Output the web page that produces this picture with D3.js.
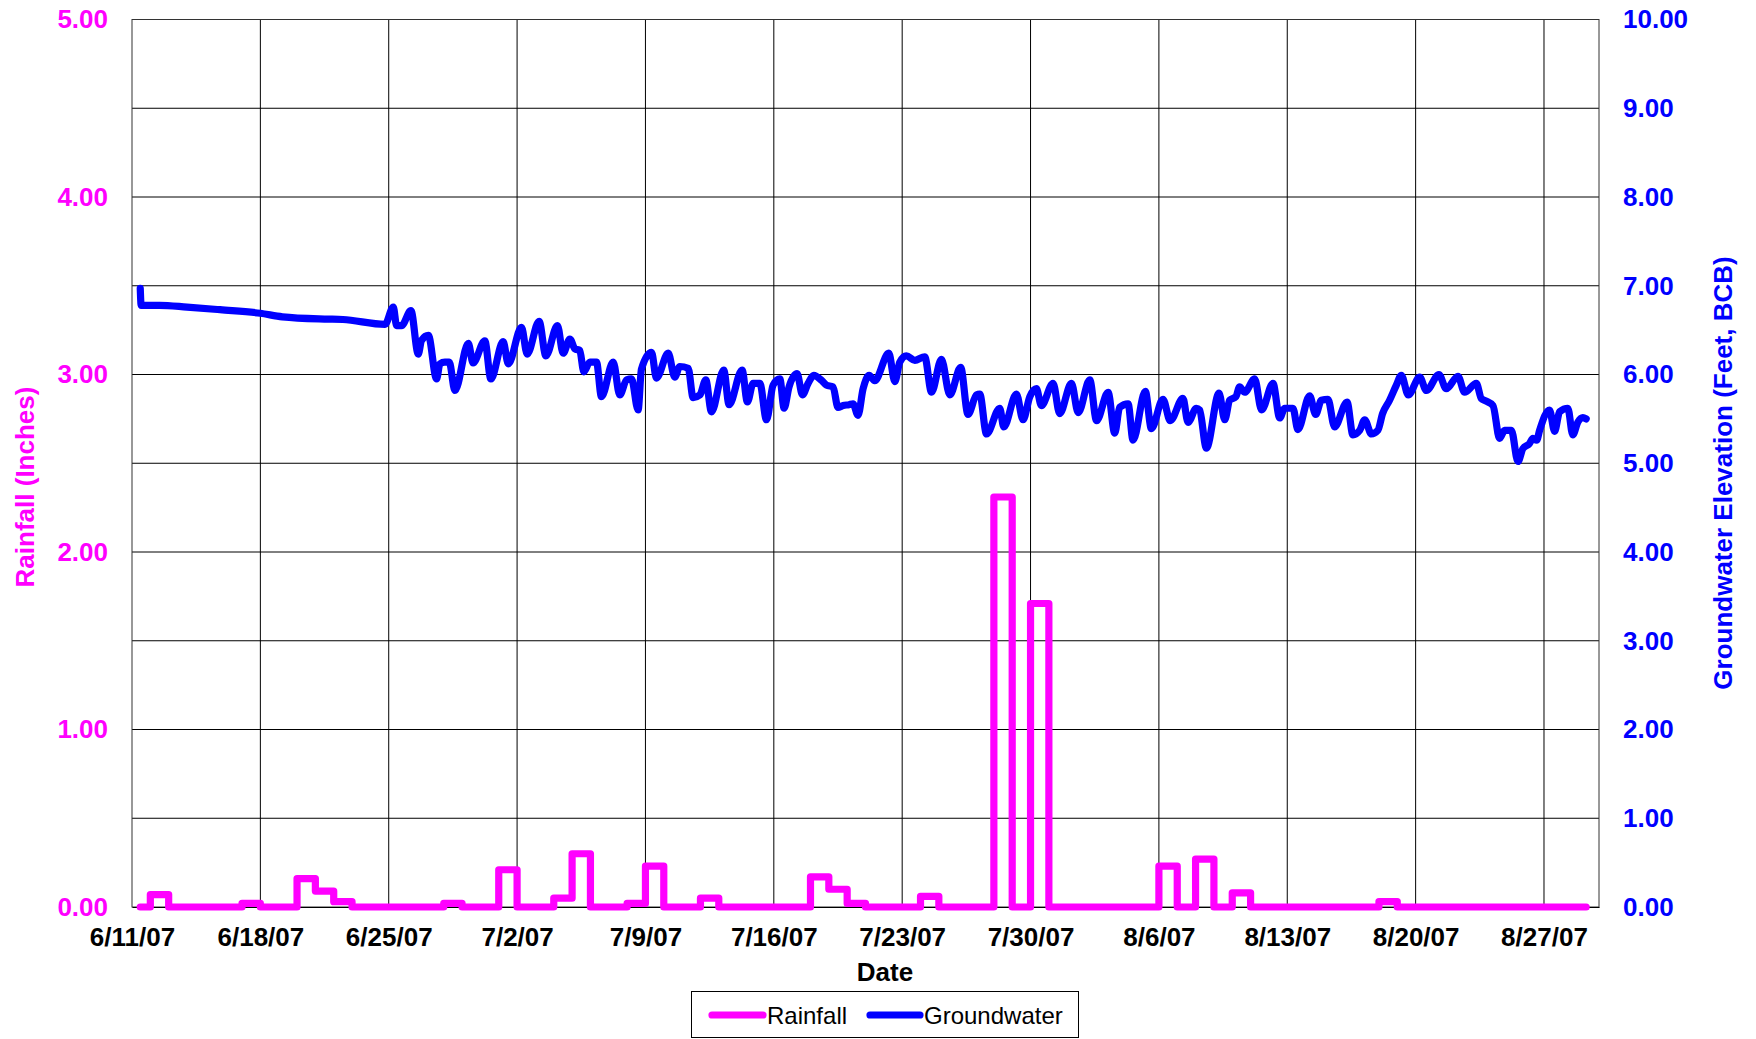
<!DOCTYPE html>
<html>
<head>
<meta charset="utf-8">
<script src="https://cdn.jsdelivr.net/npm/d3@7"></script>
<style>
  html, body { margin: 0; padding: 0; background: #fff; }
  svg { display: block; }
  text { font-family: "Liberation Sans", Arial, sans-serif; }
</style>
</head>
<body>
<svg id="chart" width="1756" height="1039"></svg>
<script>
// ---------- DATA ----------
const xTickLabels = ["6/11/07","6/18/07","6/25/07","7/2/07","7/9/07","7/16/07","7/23/07","7/30/07","8/6/07","8/13/07","8/20/07","8/27/07"];
const xDomainLabels = ["6/11/07", "8/30/07"];
const rainTicks = [0, 1, 2, 3, 4, 5];
const gwTicks = [0, 1, 2, 3, 4, 5, 6, 7, 8, 9, 10];

// Daily rainfall (inches), one value per day starting 6/11/07
const rainStart = "6/11/07";
const rainfall = [
  0, 0.07, 0, 0, 0, 0, 0.02, 0, 0, 0.16,
  0.09, 0.03, 0, 0, 0, 0, 0, 0.02, 0, 0,
  0.21, 0, 0, 0.05, 0.30, 0, 0, 0.02, 0.23, 0,
  0, 0.05, 0, 0, 0, 0, 0, 0.17, 0.10, 0.02,
  0, 0, 0, 0.06, 0, 0, 0, 2.31, 0, 1.71,
  0, 0, 0, 0, 0, 0, 0.23, 0, 0.27, 0,
  0.08, 0, 0, 0, 0, 0, 0, 0, 0.03, 0,
  0, 0, 0, 0, 0, 0, 0, 0, 0, 0
];
const recordFirstDay = 0.45;   // first reading (days after 6/11/07)
const recordLastDay = 79.3;    // last reading (days after 6/11/07)

// Groundwater elevation (feet, BCB): time in days after 6/11/07 and value
const gwDay = [
  0.45, 0.5, 1.5, 3.0, 4.8, 7.0, 8.2, 10.5, 11.5, 13.8,
  14.25, 14.43, 14.7, 15.21, 15.61, 15.79, 16.16, 16.61, 16.79, 17.06, 17.3, 17.61,
  18.34, 18.6, 19.24, 19.57, 20.24, 20.52, 21.24, 21.55, 22.2, 22.57, 23.2, 23.51,
  23.88, 24.15, 24.42, 24.64, 24.97, 25.33, 25.6, 26.24, 26.6, 26.97, 27.24, 27.6,
  27.78, 28.33, 28.6, 29.24, 29.6, 29.87, 30.33, 30.6, 30.97, 31.29, 31.6, 32.27,
  32.56, 33.27, 33.56, 33.87, 34.24, 34.6, 34.96, 35.33, 35.56, 35.83, 36.27, 36.56,
  36.87, 37.18, 37.6, 37.87, 38.23, 38.5, 38.78, 39.1, 39.32, 39.59, 39.87, 40.2,
  40.5, 41.27, 41.6, 41.87, 42.23, 42.69, 43.23, 43.6, 44.14, 44.6, 45.19, 45.59,
  46.05, 46.23, 46.6, 47.32, 47.54, 48.23, 48.59, 48.96, 49.32, 49.59, 50.23, 50.59,
  51.23, 51.6, 52.23, 52.6, 53.23, 53.59, 53.86, 54.32, 54.59, 55.26, 55.59, 56.22,
  56.62, 57.31, 57.59, 58.04, 58.22, 58.59, 59.28, 59.59, 59.86, 60.2, 60.4, 60.68,
  61.22, 61.6, 62.22, 62.59, 62.86, 63.31, 63.58, 64.22, 64.55, 64.86, 65.22, 65.58,
  66.26, 66.58, 66.95, 67.22, 67.59, 67.94, 68.2, 68.58, 68.95, 69.22, 69.6, 70.22,
  70.59, 71.27, 71.67, 72.31, 72.67, 73.31, 73.58, 73.85, 74.22, 74.58, 74.85, 75.22,
  75.58, 75.85, 76.2, 76.4, 76.6, 76.76, 77.3, 77.58, 77.85, 78.3, 78.57, 78.85,
  79.12, 79.3
];
const gwFeet = [
  6.97, 6.78, 6.78, 6.76, 6.73, 6.69, 6.65, 6.625, 6.62, 6.565,
  6.76, 6.55, 6.55, 6.72, 6.23, 6.385, 6.44, 5.95, 6.12, 6.14, 6.14, 5.82,
  6.35, 6.13, 6.38, 5.95, 6.37, 6.12, 6.53, 6.23, 6.60, 6.21, 6.55, 6.24,
  6.40, 6.29, 6.27, 6.03, 6.14, 6.14, 5.75, 6.14, 5.77, 5.94, 5.95, 5.60,
  6.06, 6.25, 5.96, 6.24, 5.97, 6.09, 6.07, 5.74, 5.77, 5.94, 5.58, 6.05,
  5.66, 6.05, 5.69, 5.90, 5.90, 5.49, 5.88, 5.95, 5.62, 5.86, 6.01, 5.77,
  5.90, 5.99, 5.935, 5.88, 5.86, 5.63, 5.65, 5.66, 5.67, 5.54, 5.84, 5.99,
  5.93, 6.24, 5.92, 6.14, 6.21, 6.16, 6.20, 5.80, 6.17, 5.77, 6.08, 5.55,
  5.77, 5.78, 5.33, 5.62, 5.41, 5.78, 5.49, 5.75, 5.84, 5.65, 5.90, 5.56,
  5.90, 5.57, 5.94, 5.48, 5.80, 5.34, 5.63, 5.67, 5.26, 5.81, 5.39, 5.72,
  5.48, 5.73, 5.46, 5.62, 5.60, 5.17, 5.79, 5.49, 5.71, 5.75, 5.86, 5.80,
  5.95, 5.60, 5.90, 5.51, 5.62, 5.62, 5.38, 5.76, 5.55, 5.71, 5.72, 5.41,
  5.69, 5.32, 5.37, 5.49, 5.33, 5.37, 5.56, 5.71, 5.88, 5.99, 5.77, 5.97,
  5.82, 6.00, 5.84, 5.98, 5.80, 5.90, 5.73, 5.70, 5.65, 5.28, 5.37, 5.37,
  5.02, 5.165, 5.22, 5.28, 5.26, 5.37, 5.60, 5.36, 5.58, 5.62, 5.32, 5.465,
  5.515, 5.50
];

// ---------- CHART ----------
const FONT = '"Liberation Sans", Arial, sans-serif';
const RAIN_C = "#FF00FF", GW_C = "#0000FF";
const LINE_W = 7.2;
const svg = d3.select("#chart");
const M = { left: 132, right: 1599, top: 19.5, bottom: 907 };

const parse = d3.timeParse("%m/%d/%y");
const day0 = parse(rainStart);
const atDay = d => new Date(day0.getTime() + d * 86400000);

const x = d3.scaleTime().domain(xDomainLabels.map(parse)).range([M.left, M.right]);
const yR = d3.scaleLinear().domain([0, 5]).range([M.bottom, M.top]);
const yG = d3.scaleLinear().domain([0, 10]).range([M.bottom, M.top]);

// gridlines
const grid = svg.append("g").attr("stroke", "#000").attr("stroke-width", 1).attr("fill", "none");
d3.range(0.5, 5.01, 0.5).forEach(v => {
  grid.append("line").attr("x1", M.left).attr("x2", M.right).attr("y1", yR(v)).attr("y2", yR(v));
});
xTickLabels.slice(1).forEach(l => {
  const px = x(parse(l));
  grid.append("line").attr("x1", px).attr("x2", px).attr("y1", M.top).attr("y2", M.bottom);
});
grid.append("rect").attr("x", M.left).attr("y", M.top)
  .attr("width", M.right - M.left).attr("height", M.bottom - M.top)
  .attr("stroke", "#333");

// axes
const xAxis = svg.append("g").attr("transform", `translate(0,${M.bottom})`)
  .call(d3.axisBottom(x).tickValues(xTickLabels.map(parse)).tickSize(0).tickPadding(21)
    .tickFormat((d, i) => xTickLabels[i]));
xAxis.select(".domain").attr("stroke", "#000").attr("stroke-width", 1.2);
xAxis.selectAll("text").attr("font-family", FONT).attr("font-size", 26).attr("font-weight", "bold").attr("fill", "#000");

const lAxis = svg.append("g").attr("transform", `translate(${M.left},0)`)
  .call(d3.axisLeft(yR).tickValues(rainTicks).tickSize(0).tickPadding(24).tickFormat(d3.format(".2f")));
lAxis.select(".domain").remove();
lAxis.selectAll("text").attr("font-family", FONT).attr("font-size", 26).attr("font-weight", "bold").attr("fill", RAIN_C);

const rAxis = svg.append("g").attr("transform", `translate(${M.right},0)`)
  .call(d3.axisRight(yG).tickValues(gwTicks).tickSize(0).tickPadding(24).tickFormat(d3.format(".2f")));
rAxis.select(".domain").remove();
rAxis.selectAll("text").attr("font-family", FONT).attr("font-size", 26).attr("font-weight", "bold").attr("fill", GW_C);

// rainfall step line
const rainPts = rainfall.map((v, i) => ({ t: atDay(i === 0 ? recordFirstDay : i), v }));
rainPts.push({ t: atDay(recordLastDay), v: rainfall[rainfall.length - 1] });
svg.append("path").datum(rainPts)
  .attr("fill", "none").attr("stroke", RAIN_C).attr("stroke-width", LINE_W)
  .attr("stroke-linejoin", "round").attr("stroke-linecap", "round")
  .attr("d", d3.line().curve(d3.curveStepAfter).x(d => x(d.t)).y(d => yR(d.v)));

// groundwater line
const gwPts = gwDay.map((d, i) => ({ t: atDay(d), v: gwFeet[i] }));
svg.append("path").datum(gwPts)
  .attr("fill", "none").attr("stroke", GW_C).attr("stroke-width", LINE_W)
  .attr("stroke-linejoin", "round").attr("stroke-linecap", "round")
  .attr("d", d3.line().curve(d3.curveMonotoneX).x(d => x(d.t)).y(d => yG(d.v)));

// axis titles
svg.append("text").attr("x", 885).attr("y", 981).attr("text-anchor", "middle")
  .attr("font-family", FONT).attr("font-size", 26).attr("font-weight", "bold").text("Date");
svg.append("text").attr("transform", "translate(25,487) rotate(-90)").attr("text-anchor", "middle")
  .attr("dominant-baseline", "central")
  .attr("font-family", FONT).attr("font-size", 26).attr("font-weight", "bold").attr("fill", RAIN_C)
  .text("Rainfall (Inches)");
svg.append("text").attr("transform", "translate(1723,473) rotate(-90)").attr("text-anchor", "middle")
  .attr("dominant-baseline", "central")
  .attr("font-family", FONT).attr("font-size", 26).attr("font-weight", "bold").attr("fill", GW_C)
  .text("Groundwater Elevation (Feet, BCB)");

// legend
const leg = svg.append("g");
leg.append("rect").attr("x", 691.5).attr("y", 991.5).attr("width", 387).attr("height", 46)
  .attr("fill", "#fff").attr("stroke", "#000").attr("stroke-width", 1);
const legItems = [
  { name: "Rainfall", color: RAIN_C, x1: 712, x2: 763, tx: 767 },
  { name: "Groundwater", color: GW_C, x1: 870, x2: 920, tx: 924 }
];
legItems.forEach(it => {
  leg.append("line").attr("x1", it.x1).attr("x2", it.x2).attr("y1", 1015).attr("y2", 1015)
    .attr("stroke", it.color).attr("stroke-width", LINE_W).attr("stroke-linecap", "round");
  leg.append("text").attr("x", it.tx).attr("y", 1024).attr("font-family", FONT)
    .attr("font-size", 24).attr("fill", "#000").text(it.name);
});
</script>
</body>
</html>
